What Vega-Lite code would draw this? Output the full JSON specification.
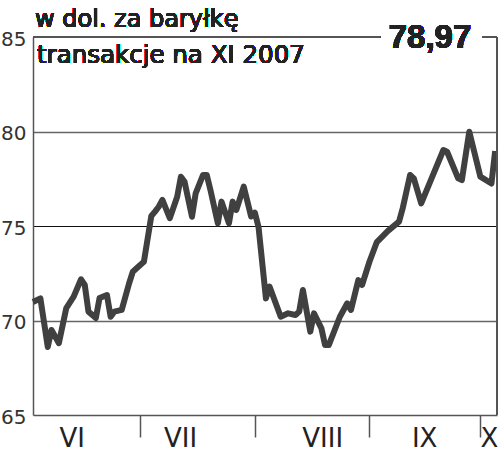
{
  "$schema": "https://vega.github.io/schema/vega-lite/v6.json",
  "width": 464,
  "height": 378,
  "autosize": {"type": "none"},
  "padding": {"left": 33, "top": 37, "right": 3, "bottom": 39},
  "background": "white",
  "config": {"view": {"stroke": null}, "font": "DejaVu Sans"},
  "data": {"values": [
    {"date": "2007-06-02", "price": 70.98},
    {"date": "2007-06-04", "price": 71.17},
    {"date": "2007-06-06", "price": 68.6},
    {"date": "2007-06-07", "price": 69.5},
    {"date": "2007-06-09", "price": 68.8},
    {"date": "2007-06-11", "price": 70.66},
    {"date": "2007-06-13", "price": 71.26},
    {"date": "2007-06-15", "price": 72.18},
    {"date": "2007-06-16", "price": 71.88},
    {"date": "2007-06-17", "price": 70.47},
    {"date": "2007-06-19", "price": 70.13},
    {"date": "2007-06-20", "price": 71.19},
    {"date": "2007-06-22", "price": 71.35},
    {"date": "2007-06-23", "price": 70.2},
    {"date": "2007-06-24", "price": 70.47},
    {"date": "2007-06-26", "price": 70.56},
    {"date": "2007-06-28", "price": 71.97},
    {"date": "2007-06-29", "price": 72.58},
    {"date": "2007-07-01", "price": 72.94},
    {"date": "2007-07-02", "price": 73.11},
    {"date": "2007-07-04", "price": 75.53},
    {"date": "2007-07-05", "price": 75.76},
    {"date": "2007-07-06", "price": 76.02},
    {"date": "2007-07-07", "price": 76.38},
    {"date": "2007-07-09", "price": 75.41},
    {"date": "2007-07-11", "price": 76.55},
    {"date": "2007-07-12", "price": 77.61},
    {"date": "2007-07-13", "price": 77.34},
    {"date": "2007-07-15", "price": 75.49},
    {"date": "2007-07-16", "price": 76.73},
    {"date": "2007-07-18", "price": 77.7},
    {"date": "2007-07-19", "price": 77.7},
    {"date": "2007-07-20", "price": 76.9},
    {"date": "2007-07-22", "price": 75.14},
    {"date": "2007-07-23", "price": 76.29},
    {"date": "2007-07-25", "price": 75.14},
    {"date": "2007-07-26", "price": 76.29},
    {"date": "2007-07-27", "price": 75.85},
    {"date": "2007-07-29", "price": 77.08},
    {"date": "2007-07-31", "price": 75.5},
    {"date": "2007-08-01", "price": 75.71},
    {"date": "2007-08-02", "price": 74.95},
    {"date": "2007-08-04", "price": 71.17},
    {"date": "2007-08-05", "price": 71.79},
    {"date": "2007-08-08", "price": 70.2},
    {"date": "2007-08-10", "price": 70.38},
    {"date": "2007-08-12", "price": 70.29},
    {"date": "2007-08-13", "price": 70.47},
    {"date": "2007-08-14", "price": 71.61},
    {"date": "2007-08-16", "price": 69.41},
    {"date": "2007-08-17", "price": 70.38},
    {"date": "2007-08-19", "price": 69.59},
    {"date": "2007-08-20", "price": 68.7},
    {"date": "2007-08-21", "price": 68.7},
    {"date": "2007-08-24", "price": 70.2},
    {"date": "2007-08-26", "price": 70.91},
    {"date": "2007-08-27", "price": 70.56},
    {"date": "2007-08-29", "price": 72.14},
    {"date": "2007-08-30", "price": 71.88},
    {"date": "2007-09-01", "price": 73.11},
    {"date": "2007-09-03", "price": 74.15},
    {"date": "2007-09-06", "price": 74.74},
    {"date": "2007-09-09", "price": 75.23},
    {"date": "2007-09-10", "price": 75.94},
    {"date": "2007-09-12", "price": 77.7},
    {"date": "2007-09-13", "price": 77.52},
    {"date": "2007-09-15", "price": 76.2},
    {"date": "2007-09-18", "price": 77.61},
    {"date": "2007-09-21", "price": 79.02},
    {"date": "2007-09-22", "price": 78.93},
    {"date": "2007-09-25", "price": 77.52},
    {"date": "2007-09-26", "price": 77.43},
    {"date": "2007-09-28", "price": 79.99},
    {"date": "2007-09-29", "price": 79.2},
    {"date": "2007-10-01", "price": 77.61},
    {"date": "2007-10-04", "price": 77.25},
    {"date": "2007-10-05", "price": 78.97}
  ]},
  "resolve": {"axis": {"x": "independent", "y": "independent"}},
  "layer": [
    {
      "mark": {"type": "line", "color": "#404040", "strokeWidth": 6, "strokeJoin": "round"},
      "encoding": {
        "x": {
          "field": "date", "type": "temporal",
          "scale": {"type": "utc", "domain": [{"year": 2007, "month": 6, "date": 2, "utc": true}, {"year": 2007, "month": 10, "date": 5, "hours": 12, "utc": true}]},
          "axis": {
            "orient": "bottom", "title": null, "labels": false, "grid": false,
            "values": [{"year": 2007, "month": 7, "date": 1, "utc": true}, {"year": 2007, "month": 8, "date": 1, "utc": true}, {"year": 2007, "month": 9, "date": 1, "utc": true}, {"year": 2007, "month": 10, "date": 1, "utc": true}],
            "tickSize": 22, "tickColor": "#555", "tickWidth": 1.5,
            "domain": true, "domainColor": "#555", "domainWidth": 1.5
          }
        },
        "y": {
          "field": "price", "type": "quantitative",
          "scale": {"domain": [65, 85], "nice": false, "zero": false},
          "axis": {
            "orient": "left", "title": null, "values": [65, 70, 75, 80, 85],
            "ticks": false, "labelFontSize": 20, "labelColor": "#333", "labelPadding": 7,
            "labelBaseline": "middle", "labelOffset": 2,
            "domain": true, "domainColor": "#555", "domainWidth": 1.5,
            "grid": true,
            "gridColor": {"condition": {"test": "datum.value === 75", "value": "#111"}, "value": "#666"},
            "gridWidth": {"condition": {"test": "datum.value === 75", "value": 1}, "value": 1.5},
            "gridOpacity": {"condition": {"test": "datum.value === 85 || datum.value === 65", "value": 0}, "value": 1}
          }
        }
      }
    },
    {
      "mark": {"type": "rule", "color": "#555", "strokeWidth": 1.5},
      "encoding": {
        "x": {"datum": {"year": 2007, "month": 10, "date": 5, "hours": 12, "utc": true}, "type": "temporal",
          "axis": {
            "orient": "bottom", "title": null, "domain": false, "ticks": false, "grid": false,
            "values": [{"year": 2007, "month": 6, "date": 12, "hours": 12, "utc": true}, {"year": 2007, "month": 7, "date": 11, "hours": 19, "utc": true}, {"year": 2007, "month": 8, "date": 19, "hours": 5, "utc": true}, {"year": 2007, "month": 9, "date": 15, "hours": 19, "utc": true}, {"year": 2007, "month": 10, "date": 3, "hours": 7, "utc": true}],
            "labelExpr": "['I','II','III','IV','V','VI','VII','VIII','IX','X','XI','XII'][utcmonth(datum.value)]",
            "labelFontSize": 26, "labelColor": "#222", "labelPadding": 10,
            "labelFlush": false, "labelOverlap": false, "labelBound": false
          }
        }
      }
    },
    {
      "mark": {"type": "rule", "color": "#555", "strokeWidth": 1.5},
      "encoding": {
        "x": {"datum": {"year": 2007, "month": 6, "date": 2, "utc": true}, "type": "temporal", "axis": null},
        "x2": {"datum": {"year": 2007, "month": 9, "date": 3, "hours": 21, "utc": true}},
        "y": {"datum": 85, "type": "quantitative", "axis": null}
      }
    },
    {
      "mark": {"type": "rule", "color": "#555", "strokeWidth": 1.5},
      "encoding": {
        "x": {"datum": {"year": 2007, "month": 10, "date": 1, "hours": 11, "utc": true}, "type": "temporal", "axis": null},
        "x2": {"datum": {"year": 2007, "month": 10, "date": 5, "hours": 12, "utc": true}},
        "y": {"datum": 85, "type": "quantitative", "axis": null}
      }
    },
    {
      "mark": {"type": "text", "text": "78,97", "font": "Liberation Sans", "fontWeight": "bold", "fontSize": 33, "color": "#222", "align": "center", "baseline": "alphabetic", "dy": 11},
      "encoding": {
        "x": {"datum": {"year": 2007, "month": 9, "date": 17, "hours": 9, "utc": true}, "type": "temporal", "axis": null},
        "y": {"datum": 85, "type": "quantitative", "axis": null}
      }
    },
    {
      "mark": {"type": "text", "text": "transakcje na XI 2007", "fontSize": 24.5, "color": "#222", "align": "left", "baseline": "alphabetic", "dx": 4, "dy": 26},
      "encoding": {
        "x": {"datum": {"year": 2007, "month": 6, "date": 2, "utc": true}, "type": "temporal", "axis": null},
        "y": {"datum": 85, "type": "quantitative", "axis": null}
      }
    },
    {
      "mark": {"type": "text", "text": "w dol. za baryłkę", "fontSize": 24, "color": "#222", "align": "left", "baseline": "alphabetic", "dx": 2, "dy": -10},
      "encoding": {
        "x": {"datum": {"year": 2007, "month": 6, "date": 2, "utc": true}, "type": "temporal", "axis": null},
        "y": {"datum": 85, "type": "quantitative", "axis": null}
      }
    }
  ]
}
